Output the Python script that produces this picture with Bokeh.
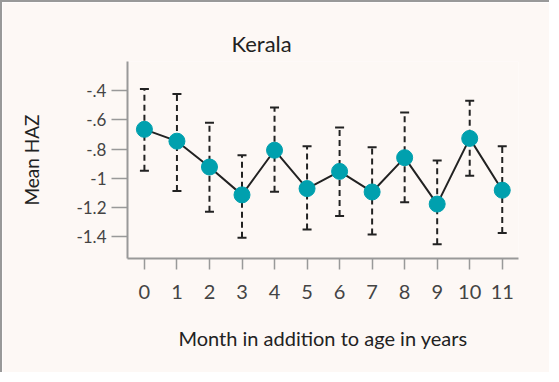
from bokeh.plotting import figure
from bokeh.models import ColumnDataSource, FixedTicker, Whisker, Range1d
from bokeh.embed import file_html
from bokeh.resources import INLINE

months = [0, 1, 2, 3, 4, 5, 6, 7, 8, 9, 10, 11]
mean_haz = [-0.665, -0.746, -0.923, -1.114, -0.808, -1.071, -0.953, -1.094, -0.859, -1.177, -0.727, -1.082]
upper = [-0.388, -0.423, -0.619, -0.843, -0.515, -0.780, -0.653, -0.787, -0.549, -0.879, -0.469, -0.780]
lower = [-0.948, -1.087, -1.230, -1.407, -1.092, -1.352, -1.258, -1.386, -1.165, -1.453, -0.983, -1.375]
y_ticks = [-0.4, -0.6, -0.8, -1.0, -1.2, -1.4]
y_tick_labels = ["-.4", "-.6", "-.8", "-1", "-1.2", "-1.4"]

BG = "#fdf8f5"
FONT = "Lato"

src = ColumnDataSource(dict(x=months, y=mean_haz, upper=upper, lower=lower))

p = figure(width=549, height=372, output_backend="svg", toolbar_location=None,
           x_range=Range1d(-0.52, 11.5), y_range=Range1d(-1.55, -0.2),
           title="Kerala",
           min_border_left=125, min_border_right=33, min_border_top=59, min_border_bottom=116)
p.styles = {"border-left": "2px solid #999999", "border-top": "2px solid #999999"}
p.background_fill_color = BG
p.border_fill_color = BG
p.outline_line_color = None
p.grid.grid_line_color = None

p.title.align = "left"
p.title.offset = 104
p.title.text_font = FONT
p.title.text_font_size = "22px"
p.title.text_font_style = "normal"
p.title.text_color = "#222222"

whisk = Whisker(source=src, base="x", upper="upper", lower="lower",
                line_color="#222222", line_width=2, line_dash="6 4")
whisk.upper_head.size = 9
whisk.lower_head.size = 9
whisk.upper_head.line_color = "#222222"
whisk.lower_head.line_color = "#222222"
whisk.upper_head.line_width = 2
whisk.lower_head.line_width = 2
p.add_layout(whisk)

p.line("x", "y", source=src, line_color="#222222", line_width=2)
p.scatter("x", "y", source=src, size=16, fill_color="#00a0ae", line_color="#00a0ae")

for ax in (p.xaxis[0], p.yaxis[0]):
    ax.axis_line_color = "#999999"
    ax.axis_line_width = 2
    ax.major_tick_line_color = "#999999"
    ax.major_tick_line_width = 1.5
    ax.minor_tick_line_color = None
    ax.major_tick_in = 0
    ax.major_label_text_font = FONT
    ax.major_label_text_color = "#444444"
    ax.axis_label_text_font = FONT
    ax.axis_label_text_color = "#222222"
    ax.axis_label_text_font_style = "normal"

p.xaxis.ticker = FixedTicker(ticks=months)
p.xaxis.major_tick_out = 11
p.xaxis.major_label_text_font_size = "20px"
p.xaxis.major_label_standoff = 15
p.xaxis.axis_label = "Month in addition to age in years"
p.xaxis.axis_label_text_font_size = "20px"
p.xaxis.axis_label_standoff = 24

p.yaxis.ticker = FixedTicker(ticks=y_ticks)
p.yaxis.major_label_overrides = {t: l for t, l in zip(y_ticks, y_tick_labels)}
p.yaxis.major_tick_out = 16
p.yaxis.major_label_text_font_size = "17px"
p.yaxis.major_label_standoff = 5
p.yaxis.axis_label = "Mean HAZ"
p.yaxis.axis_label_text_font_size = "19px"
p.yaxis.axis_label_standoff = 30

open("out.html", "w").write(file_html(p, INLINE))
